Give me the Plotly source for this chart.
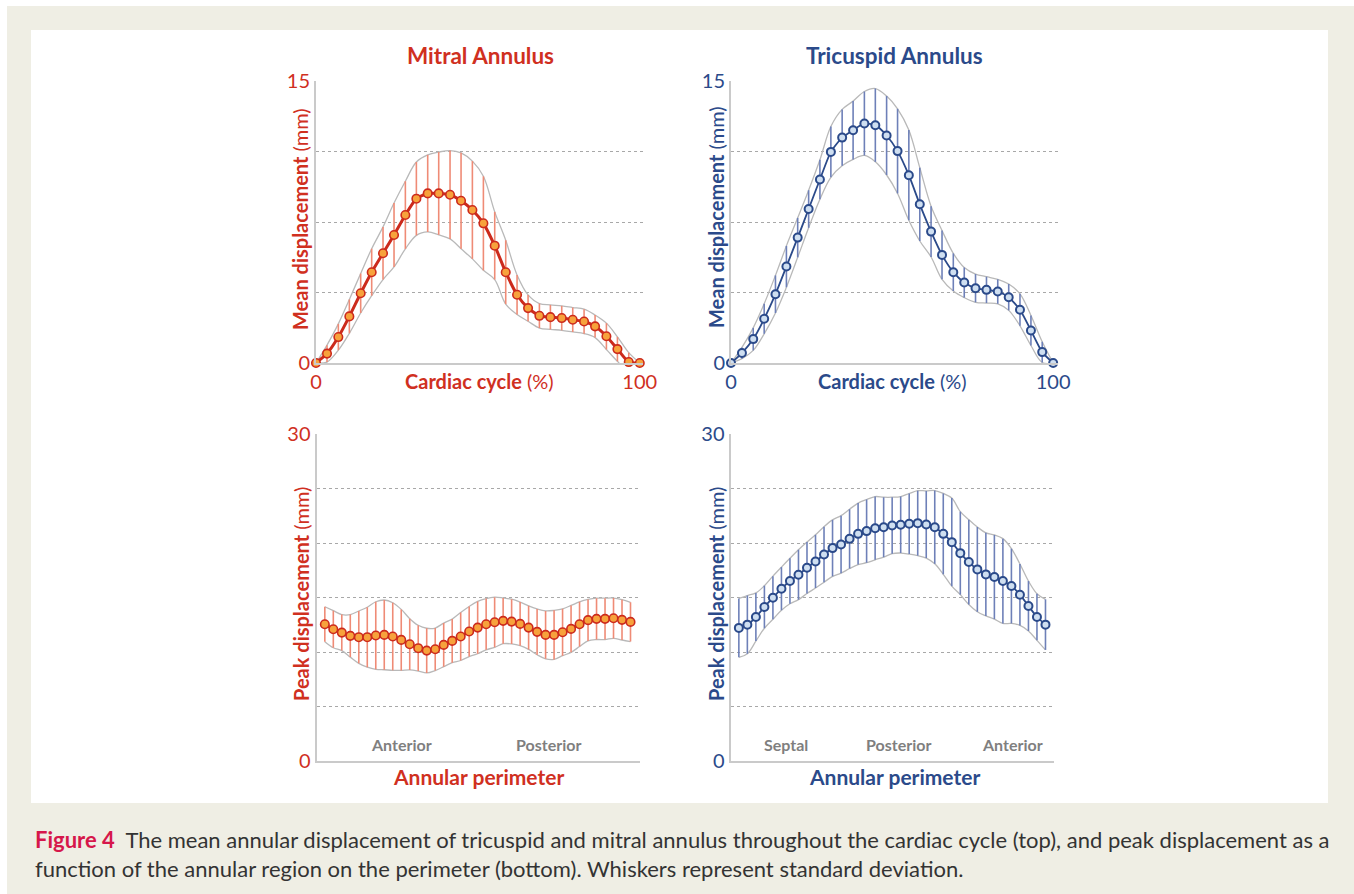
import plotly.graph_objects as go

# ---------------- data ----------------
cycle_pct = [0, 3.4, 6.9, 10.3, 13.8, 17.2, 20.7, 24.1, 27.6, 31.0, 34.5, 37.9, 41.4, 44.8, 48.3,
             51.7, 55.2, 58.6, 62.1, 65.5, 69.0, 72.4, 75.9, 79.3, 82.8, 86.2, 89.7, 93.1, 96.6, 100]

mitral_mean = [0, 0.5, 1.38, 2.48, 3.71, 4.83, 5.84, 6.81, 7.87, 8.74, 9.02, 9.02, 8.95, 8.63, 8.14,
               7.43, 6.24, 4.83, 3.63, 2.92, 2.51, 2.44, 2.39, 2.30, 2.21, 1.95, 1.42, 0.74, 0.05, 0]
mitral_sd = [0, 0.45, 0.7, 0.9, 1.05, 1.25, 1.4, 1.7, 1.8, 1.95, 2.05, 2.2, 2.35, 2.55, 2.6,
             2.5, 1.8, 1.7, 1.05, 0.7, 0.65, 0.65, 0.65, 0.65, 0.65, 0.6, 0.7, 0.65, 0.5, 0]

tricuspid_mean = [0, 0.53, 1.27, 2.35, 3.66, 5.13, 6.67, 8.19, 9.76, 11.23, 11.99, 12.38, 12.74, 12.65, 12.10,
                  11.27, 9.99, 8.44, 6.99, 5.75, 4.83, 4.28, 3.98, 3.89, 3.80, 3.50, 2.83, 1.73, 0.58, 0]
tricuspid_sd = [0, 0.3, 0.6, 0.8, 1.0, 1.1, 1.05, 1.0, 1.05, 1.35, 1.5, 1.55, 1.7, 1.95, 2.1,
                2.25, 2.4, 1.95, 1.35, 1.3, 1.0, 0.8, 0.75, 0.7, 0.65, 0.7, 0.85, 0.8, 0.55, 0]

perimeter_pos = list(range(1, 38))

mitral_peak = [12.55, 12.09, 11.78, 11.48, 11.36, 11.36, 11.51, 11.57, 11.42, 11.11, 10.71, 10.35, 10.13,
               10.25, 10.65, 11.02, 11.42, 11.88, 12.24, 12.55, 12.73, 12.86, 12.79, 12.58, 12.24, 11.85,
               11.57, 11.57, 11.81, 12.12, 12.55, 12.92, 13.04, 13.04, 13.10, 12.95, 12.76]
mitral_peak_sd = [1.6, 1.7, 1.65, 1.95, 2.4, 2.75, 3.1, 3.2, 3.1, 2.8, 2.35, 2.1, 2.05, 1.95, 2.0, 2.0,
                  2.2, 2.3, 2.4, 2.35, 2.3, 2.1, 2.05, 2.0, 2.0, 2.1, 2.2, 2.25, 2.15, 2.15, 2.05, 1.9,
                  1.9, 1.9, 1.85, 1.85, 1.8]

tricuspid_peak = [12.21, 12.51, 13.21, 14.13, 14.98, 15.81, 16.51, 17.09, 17.73, 18.31, 18.95, 19.53, 19.87,
                  20.38, 20.84, 21.09, 21.36, 21.45, 21.61, 21.67, 21.76, 21.82, 21.70, 21.45, 20.84, 20.08,
                  19.07, 18.25, 17.58, 17.12, 16.88, 16.51, 16.05, 15.26, 14.22, 13.21, 12.51]
tricuspid_peak_sd = [2.7, 2.67, 2.21, 1.95, 1.98, 1.98, 2.09, 2.29, 2.36, 2.44, 2.55, 2.59, 2.64, 2.72,
                     2.82, 2.90, 2.90, 2.75, 2.59, 2.59, 2.78, 2.98, 3.08, 3.36, 3.71, 4.04, 3.81, 3.89,
                     3.89, 3.81, 3.86, 3.89, 3.43, 2.82, 2.29, 2.14, 2.32]

mitral_regions = ["Anterior", "Posterior"]
mitral_region_pos = [10, 27.3]
tricuspid_regions = ["Septal", "Posterior", "Anterior"]
tricuspid_region_pos = [6.5, 19.8, 33.1]

# ---------------- style ----------------
W, H = 1354, 894
FONT = "Lato"
RED = "#cc2a1c"
RED_TXT = "#d0301f"
RED_WHISK = "#ef8b76"
ORANGE = "#f7a23c"
BLUE = "#2b4a8a"
BLUE_WHISK = "#6e80b8"
BLUE_FILL = "#cfdff1"
BAND = "#b9b9b9"
GRID = "#a8a8a8"
AXLINE = "#cacaca"
GRAYTXT = "#7f7f7f"


def px(x):
    return x / W


def py(y):
    return 1 - y / H


fig = go.Figure()


def add_panel(n, x, mean, sd, line_color, line_w, whisk_color, mk_fill, mk_line, mk_size, mk_lw):
    xa = "x" if n == 1 else f"x{n}"
    ya = "y" if n == 1 else f"y{n}"
    up = [m + s for m, s in zip(mean, sd)]
    lo = [m - s for m, s in zip(mean, sd)]
    for band in (up, lo):
        fig.add_trace(go.Scatter(x=x, y=band, mode="lines", xaxis=xa, yaxis=ya,
                                 line=dict(color=BAND, width=1.3, shape="spline", smoothing=1.0),
                                 hoverinfo="skip", showlegend=False, cliponaxis=False))
    fig.add_trace(go.Scatter(x=x, y=mean, mode="markers", xaxis=xa, yaxis=ya,
                             marker=dict(size=1, opacity=0),
                             error_y=dict(type="data", array=sd, visible=True, width=0,
                                          thickness=1.6, color=whisk_color),
                             hoverinfo="skip", showlegend=False, cliponaxis=False))
    fig.add_trace(go.Scatter(x=x, y=mean, mode="lines+markers", xaxis=xa, yaxis=ya,
                             line=dict(color=line_color, width=line_w, shape="spline", smoothing=0.6),
                             marker=dict(size=mk_size, color=mk_fill, line=dict(color=mk_line, width=mk_lw)),
                             showlegend=False, cliponaxis=False))


add_panel(1, cycle_pct, mitral_mean, mitral_sd, RED, 3, RED_WHISK, ORANGE, RED, 8.5, 1.6)
add_panel(2, cycle_pct, tricuspid_mean, tricuspid_sd, BLUE, 1.8, BLUE_WHISK, BLUE_FILL, BLUE, 8, 2)
add_panel(3, perimeter_pos, mitral_peak, mitral_peak_sd, RED, 3, RED_WHISK, ORANGE, RED, 8.5, 1.6)
add_panel(4, perimeter_pos, tricuspid_peak, tricuspid_peak_sd, BLUE, 1.8, BLUE_WHISK, BLUE_FILL, BLUE, 8, 2)

common_x = dict(showgrid=False, zeroline=False, showline=True, linecolor=AXLINE, linewidth=2,
                ticks="", fixedrange=True, automargin=False)
common_y = dict(showgrid=True, gridcolor=GRID, gridwidth=1, griddash="dot", zeroline=False,
                showline=True, linecolor=AXLINE, linewidth=2, ticks="", fixedrange=True, automargin=False)

top_dom = [py(363), py(81)]
bot_dom = [py(761), py(434)]
left_top = [px(316), px(643)]
right_top = [px(731), px(1058)]
left_bot = [px(316.5), px(639.5)]
right_bot = [px(730.5), px(1054)]

fig.update_layout(
    xaxis=dict(common_x, domain=left_top, range=[0, 101], anchor="y",
               tickvals=[0, 100], ticktext=["0", "100"], tickfont=dict(color=RED_TXT, size=20, family=FONT)),
    yaxis=dict(common_y, domain=top_dom, range=[0, 15], anchor="x",
               tickvals=[0, 3.75, 7.5, 11.25, 15], ticktext=["0", "", "", "", "15"],
               tickfont=dict(color=RED_TXT, size=20, family=FONT)),
    xaxis2=dict(common_x, domain=right_top, range=[0, 101.5], anchor="y2",
                tickvals=[0, 100], ticktext=["0", "100"], tickfont=dict(color=BLUE, size=20, family=FONT)),
    yaxis2=dict(common_y, domain=top_dom, range=[0, 15], anchor="x2",
                tickvals=[0, 3.75, 7.5, 11.25, 15], ticktext=["0", "", "", "", "15"],
                tickfont=dict(color=BLUE, size=20, family=FONT)),
    xaxis3=dict(common_x, domain=left_bot, range=[0.02, 38.06], anchor="y3", showticklabels=False),
    yaxis3=dict(common_y, domain=bot_dom, range=[0, 30], anchor="x3",
                tickvals=[0, 5, 10, 15, 20, 25, 30], ticktext=["0", "", "", "", "", "", "30"],
                tickfont=dict(color=RED_TXT, size=20, family=FONT)),
    xaxis4=dict(common_x, domain=right_bot, range=[0.02, 38.0], anchor="y4", showticklabels=False),
    yaxis4=dict(common_y, domain=bot_dom, range=[0, 30], anchor="x4",
                tickvals=[0, 5, 10, 15, 20, 25, 30], ticktext=["0", "", "", "", "", "", "30"],
                tickfont=dict(color=BLUE, size=20, family=FONT)),
)

shapes = [
    dict(type="rect", xref="paper", yref="paper", x0=px(7), x1=1, y0=0, y1=py(6),
         fillcolor="#efeee4", line=dict(width=0), layer="below"),
    dict(type="rect", xref="paper", yref="paper", x0=px(31), x1=px(1328), y0=py(803), y1=py(30),
         fillcolor="#ffffff", line=dict(width=0), layer="below"),
]

annotations = []


def ann(text, x, y, color, size, angle=0, xanchor="center", yanchor="middle"):
    annotations.append(dict(text=text, x=px(x), y=py(y), xref="paper", yref="paper",
                            showarrow=False, textangle=angle, xanchor=xanchor, yanchor=yanchor,
                            font=dict(family=FONT, size=size, color=color)))


# titles
ann("<b>Mitral Annulus</b>", 480, 55, RED_TXT, 22.5)
ann("<b>Tricuspid Annulus</b>", 894, 55, BLUE, 22.5)
# x titles
ann("<b>Cardiac cycle</b> (%)", 479, 381, RED_TXT, 20)
ann("<b>Cardiac cycle</b> (%)", 892, 381, BLUE, 20)
ann("<b>Annular perimeter</b>", 478, 776, RED_TXT, 21)
ann("<b>Annular perimeter</b>", 894, 776, BLUE, 21)
# y titles
ann("<b>Mean displacement</b> (mm)", 300, 219, RED_TXT, 20, angle=-90)
ann("<b>Mean displacement</b> (mm)", 716, 217, BLUE, 20, angle=-90)
ann("<b>Peak displacement</b> (mm)", 301, 594, RED_TXT, 20, angle=-90)
ann("<b>Peak displacement</b> (mm)", 716, 594, BLUE, 20, angle=-90)

# region labels (data coords)
for lab, pos in zip(mitral_regions, mitral_region_pos):
    annotations.append(dict(text=f"<b>{lab}</b>", x=pos, y=1.5, xref="x3", yref="y3", showarrow=False,
                            font=dict(family=FONT, size=16, color=GRAYTXT)))
for lab, pos in zip(tricuspid_regions, tricuspid_region_pos):
    annotations.append(dict(text=f"<b>{lab}</b>", x=pos, y=1.5, xref="x4", yref="y4", showarrow=False,
                            font=dict(family=FONT, size=16, color=GRAYTXT)))

# caption
cap1 = ('<span style="color:#d6174b"><b>Figure 4</b></span>  The mean annular displacement of tricuspid and '
        'mitral annulus throughout the cardiac cycle (top), and peak displacement as a')
cap2 = ('function of the annular region on the perimeter (bottom). Whiskers represent standard deviation.')
ann(cap1, 33, 839, "#333333", 22, xanchor="left")
ann(cap2, 33, 868, "#333333", 22, xanchor="left")

fig.update_layout(
    width=W, height=H, autosize=False,
    margin=dict(l=0, r=0, t=0, b=0, autoexpand=False),
    paper_bgcolor="#ffffff", plot_bgcolor="rgba(0,0,0,0)",
    shapes=shapes, annotations=annotations,
    font=dict(family=FONT),
    showlegend=False,
)

fig.write_html("out.html",
               config={"displayModeBar": False},
               post_script="document.body.style.margin='0px';document.body.style.padding='0px';"
                           "document.body.style.overflow='hidden';")
